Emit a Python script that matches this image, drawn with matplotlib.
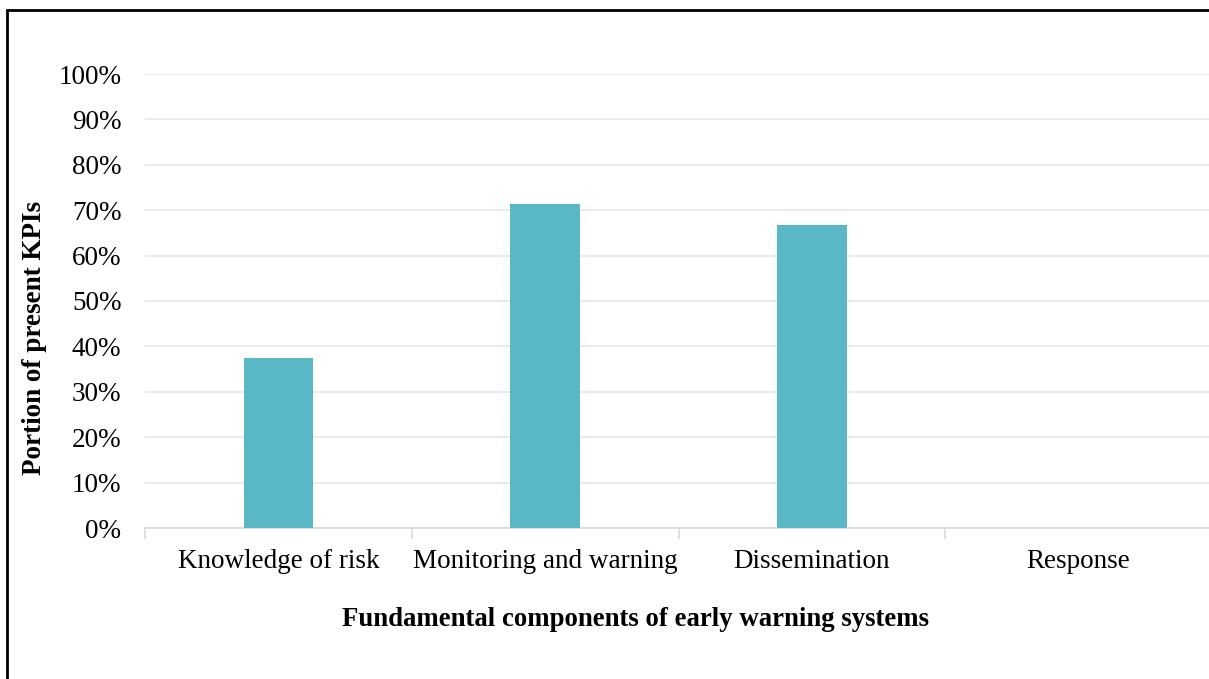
import matplotlib.pyplot as plt
from matplotlib.patches import Rectangle
from matplotlib.ticker import PercentFormatter, FixedLocator

categories = ["Knowledge of risk", "Monitoring and warning", "Dissemination", "Response"]
portions = [37.5, 71.4, 66.7, 0.0]
y_ticks = list(range(0, 101, 10))

plt.rcParams["font.family"] = ["Liberation Serif", "DejaVu Serif"]

W, H = 1209, 679
fig = plt.figure(figsize=(W / 100, H / 100), dpi=100)
ax = fig.add_axes([145 / W, 1 - 528 / H, (1212 - 145) / W, (528 - 74) / H])

x = range(len(categories))
ax.bar(x, portions, width=0.26, color="#5AB8C6", zorder=3)

ax.set_xlim(-0.5, len(categories) - 0.5)
ax.set_ylim(0, 100)
ax.set_yticks(y_ticks)
ax.yaxis.set_major_formatter(PercentFormatter(decimals=0))
ax.grid(axis="y", color="#E4E6EC", linewidth=1.2, zorder=0)

ax.set_xticks(list(x))
ax.set_xticklabels(categories)
ax.xaxis.set_minor_locator(FixedLocator([i - 0.5 for i in range(len(categories) + 1)]))
ax.tick_params(axis="x", which="major", length=0, pad=15, labelsize=19.5)
ax.tick_params(axis="x", which="minor", length=8, color="#D9D9D9", width=1.2)
ax.tick_params(axis="y", length=0, pad=17, labelsize=19.5)

for side in ["top", "right", "left"]:
    ax.spines[side].set_visible(False)
ax.spines["bottom"].set_color("#D9D9D9")
ax.spines["bottom"].set_linewidth(1.2)

# axis titles placed in figure pixels
fig.text(635 / W, 1 - 620 / H, "Fundamental components of early warning systems",
         fontsize=19.3, fontweight="bold", ha="center", va="center")
fig.text(35 / W, 1 - 338 / H, "Portion of present KPIs", rotation=90,
         fontsize=19.5, fontweight="bold", ha="center", va="center")

# frame around the chart area
fig.patches.append(Rectangle((7 / W, -0.1), 1.2, 1 - 10 / H + 0.1,
                             transform=fig.transFigure, fill=False,
                             edgecolor="black", linewidth=2))

fig.savefig("out.png", dpi=100)
